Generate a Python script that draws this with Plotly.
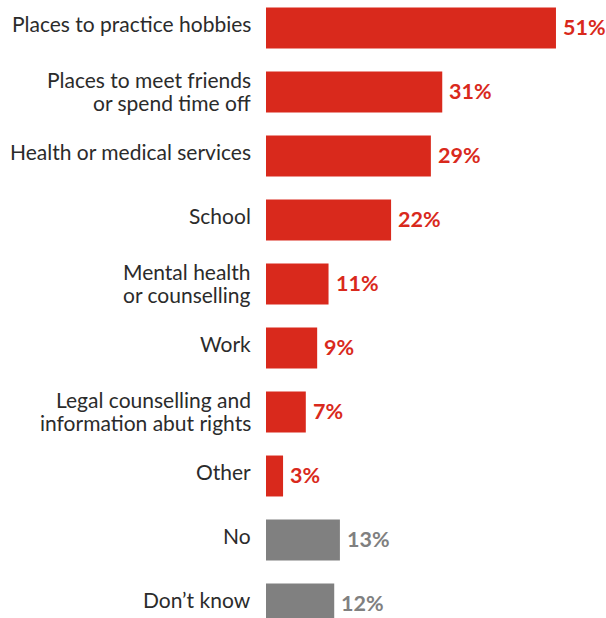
import plotly.graph_objects as go

# Survey answers, top to bottom
categories = [
    "Places to practice hobbies",
    "Places to meet friends<br>or spend time off",
    "Health or medical services",
    "School",
    "Mental health<br>or counselling",
    "Work",
    "Legal counselling and<br>information abut rights",
    "Other",
    "No",
    "Don\u2019t know",
]
values = [51, 31, 29, 22, 11, 9, 7, 3, 13, 12]
is_neutral = [False] * 8 + [True, True]

RED = "#d9291c"
GREY = "#808080"
TEXT = "#2b2b2b"
colors = [GREY if n else RED for n in is_neutral]

fig = go.Figure(
    go.Bar(
        x=values,
        y=categories,
        orientation="h",
        marker=dict(color=colors, line=dict(width=0)),
        width=0.64,
        hoverinfo="skip",
    )
)

# Percentage labels just past the end of each bar
for cat, v, c in zip(categories, values, colors):
    fig.add_annotation(
        x=v, y=cat, text=f"<b>{v}%</b>", showarrow=False,
        xanchor="left", yanchor="middle", xshift=5, yshift=1.5,
        font=dict(family="Lato", size=21.5, color=c),
    )

# Category labels, right-aligned left of the bars, one annotation per line
LINE_PITCH = 23.5
for cat in categories:
    lines = cat.split("<br>")
    n = len(lines)
    for i, line in enumerate(lines):
        shift = -(i - (n - 1) / 2) * LINE_PITCH + (4.5 if n == 1 else 1)
        fig.add_annotation(
            x=0, y=cat, xref="x", yref="y", text=line, showarrow=False,
            xanchor="right", yanchor="middle", xshift=-13, yshift=shift,
            font=dict(family="Lato", size=21, color=TEXT),
        )

fig.update_layout(
    width=606, height=618,
    margin=dict(l=266, r=0, t=0, b=0),
    paper_bgcolor="white", plot_bgcolor="white",
    showlegend=False,
    font=dict(family="Lato", size=21, color=TEXT),
    xaxis=dict(range=[0, 59.8], visible=False, fixedrange=True),
    yaxis=dict(
        range=[9.21875, -0.4375],
        showgrid=False, zeroline=False, showline=False, ticks="",
        showticklabels=False,
        fixedrange=True,
    ),
)

fig.write_html("out.html", config={"displayModeBar": False})
